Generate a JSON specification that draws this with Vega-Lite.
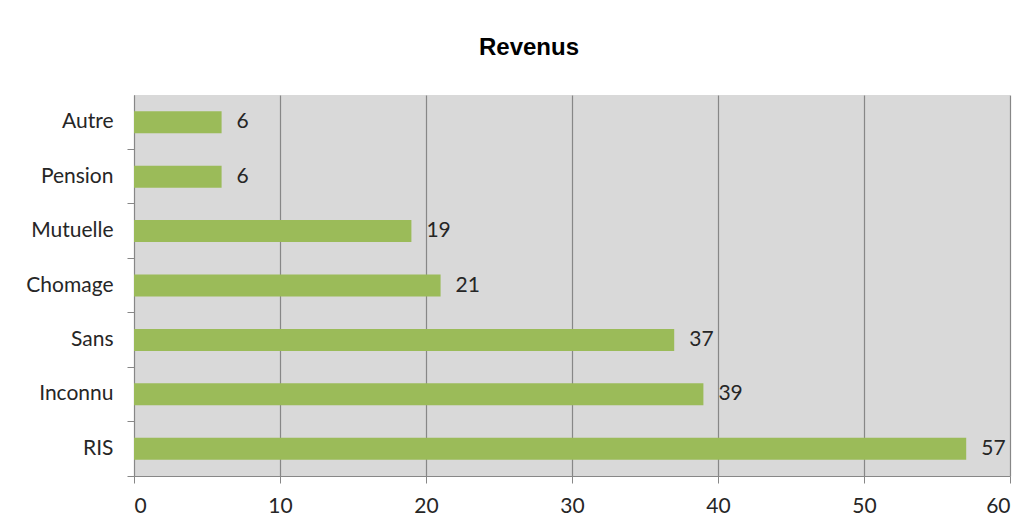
{
  "$schema": "https://vega.github.io/schema/vega-lite/v6.json",
  "width": 876,
  "height": 381,
  "autosize": {"type": "none"},
  "padding": {"left": 134, "top": 95, "right": 26, "bottom": 55},
  "background": "white",
  "title": {
    "text": "Revenus",
    "font": "Liberation Sans",
    "fontSize": 24,
    "fontWeight": "bold",
    "color": "#000000",
    "anchor": "middle",
    "dx": -43,
    "offset": 35
  },
  "config": {
    "view": {"fill": "#d9d9d9", "stroke": null},
    "font": "Lato"
  },
  "data": {
    "values": [
      {"categorie": "Autre", "valeur": 6},
      {"categorie": "Pension", "valeur": 6},
      {"categorie": "Mutuelle", "valeur": 19},
      {"categorie": "Chomage", "valeur": 21},
      {"categorie": "Sans", "valeur": 37},
      {"categorie": "Inconnu", "valeur": 39},
      {"categorie": "RIS", "valeur": 57}
    ]
  },
  "encoding": {
    "y": {
      "field": "categorie",
      "type": "nominal",
      "sort": null,
      "scale": {"paddingInner": 0, "paddingOuter": 0},
      "axis": {
        "title": null,
        "domainColor": "#878787",
        "tickColor": "#878787",
        "tickSize": 7,
        "bandPosition": 1,
        "labelPadding": 14,
        "labelFontSize": 21,
        "labelColor": "#262626",
        "labelFont": "Lato",
        "grid": false
      }
    },
    "x": {
      "field": "valeur",
      "type": "quantitative",
      "scale": {"domain": [0, 60], "nice": false},
      "axis": {
        "title": null,
        "values": [0, 10, 20, 30, 40, 50, 60],
        "grid": true,
        "gridColor": "#878787",
        "gridWidth": 1.2,
        "domainColor": "#878787",
        "tickColor": "#878787",
        "tickSize": 7,
        "labelPadding": 12,
        "labelFontSize": 21,
        "labelColor": "#262626",
        "labelFont": "Lato"
      }
    }
  },
  "layer": [
    {
      "mark": {"type": "bar", "color": "#9bbb59", "size": 22}
    },
    {
      "mark": {"type": "text", "align": "left", "dx": 15, "fontSize": 21, "color": "#262626", "font": "Lato"},
      "encoding": {"text": {"field": "valeur", "type": "quantitative"}}
    }
  ]
}
